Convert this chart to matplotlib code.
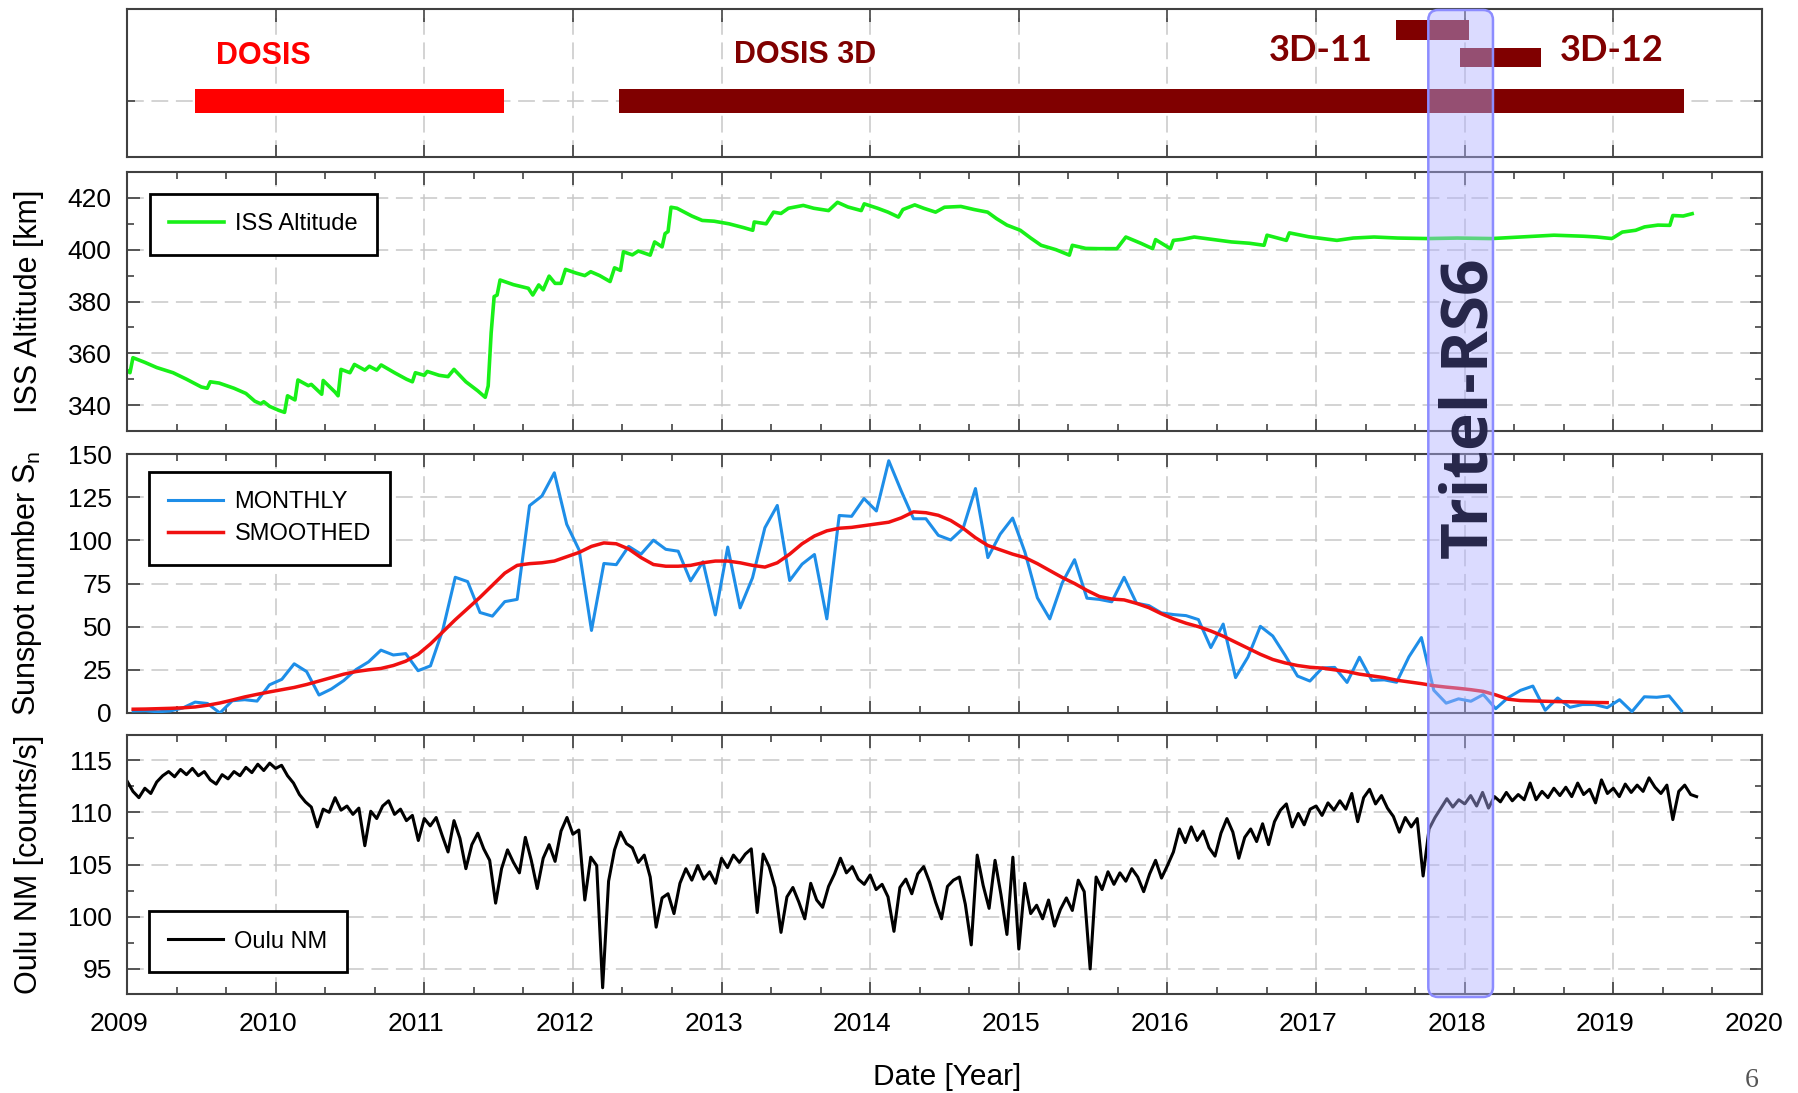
import numpy as np
import matplotlib
matplotlib.use('Agg')
import matplotlib.pyplot as plt
from matplotlib.ticker import MultipleLocator
from matplotlib.patches import FancyBboxPatch
from matplotlib.transforms import ScaledTranslation

plt.rcParams['font.family'] = ['Liberation Sans', 'DejaVu Sans']
plt.rcParams['mathtext.default'] = 'regular'

# ---------------- data ----------------
years = list(range(2009, 2021))

# missions (top panel)
mission_names = ['DOSIS', 'DOSIS 3D', '3D-11', '3D-12']
mission_start = [2009.458, 2012.31, 2017.54, 2017.97]
mission_end = [2011.537, 2019.475, 2018.03, 2018.51]
mission_level = [1.0, 1.0, 2.63, 2.0]
mission_height = [0.55, 0.55, 0.46, 0.44]
mission_color = ['#ff0000', '#800000', '#800000', '#800000']
label_x = [2009.92, 2013.56, 2017.03, 2018.99]
label_y = [2.04, 2.06, 2.15, 2.15]

# Tritel-RS6 period
band_start, band_end = 2017.755, 2018.19

# ISS altitude [km]
iss_t = [2009.00, 2009.02, 2009.04, 2009.12, 2009.20, 2009.31, 2009.40, 2009.50, 2009.54, 2009.56,
         2009.62, 2009.72, 2009.80, 2009.86, 2009.90, 2009.92, 2009.96, 2010.02, 2010.06, 2010.08,
         2010.13, 2010.15, 2010.22, 2010.24, 2010.31, 2010.32, 2010.40, 2010.42, 2010.44, 2010.50,
         2010.53, 2010.60, 2010.63, 2010.68, 2010.71, 2010.80, 2010.88, 2010.92, 2010.94, 2011.00,
         2011.02, 2011.10, 2011.16, 2011.20, 2011.28, 2011.36, 2011.41, 2011.43, 2011.45, 2011.47,
         2011.49, 2011.51, 2011.60, 2011.70, 2011.73, 2011.77, 2011.80, 2011.84, 2011.88, 2011.92,
         2011.95, 2012.02, 2012.08, 2012.12, 2012.18, 2012.25, 2012.28, 2012.32, 2012.34, 2012.40,
         2012.44, 2012.52, 2012.55, 2012.60, 2012.62, 2012.64, 2012.66, 2012.70, 2012.80, 2012.87,
         2012.95, 2013.05, 2013.15, 2013.21, 2013.22, 2013.30, 2013.35, 2013.40, 2013.45, 2013.55,
         2013.62, 2013.72, 2013.78, 2013.85, 2013.94, 2013.96, 2014.05, 2014.12, 2014.19, 2014.22,
         2014.30, 2014.36, 2014.44, 2014.50, 2014.61, 2014.70, 2014.79, 2014.85, 2014.92, 2015.01,
         2015.08, 2015.15, 2015.25, 2015.34, 2015.36, 2015.45, 2015.54, 2015.66, 2015.72, 2015.82,
         2015.90, 2015.92, 2016.02, 2016.04, 2016.10, 2016.18, 2016.30, 2016.43, 2016.55, 2016.65,
         2016.67, 2016.80, 2016.82, 2016.95, 2017.14, 2017.25, 2017.39, 2017.55, 2017.75, 2017.95,
         2018.18, 2018.40, 2018.60, 2018.80, 2018.89, 2018.99, 2019.06, 2019.15, 2019.21, 2019.30,
         2019.38, 2019.40, 2019.47, 2019.53]
iss_alt = [353.5, 352.5, 358.3, 356.5, 354.5, 352.5, 350.0, 347.0, 346.5, 349.0,
           348.5, 346.5, 344.5, 341.5, 340.5, 341.3, 339.5, 338.0, 337.2, 343.6,
           342.0, 349.7, 347.5, 348.0, 344.2, 349.5, 345.0, 343.6, 353.8, 352.5,
           355.7, 353.5, 355.0, 353.5, 355.5, 352.5, 350.0, 349.0, 352.5, 351.5,
           353.0, 351.5, 351.0, 353.8, 349.0, 345.5, 343.0, 347.4, 367.9, 381.9,
           382.5, 388.3, 386.5, 385.1, 382.5, 386.4, 384.5, 389.8, 387.0, 387.0,
           392.4, 391.0, 390.0, 391.5, 390.0, 387.7, 393.0, 392.0, 399.2, 398.0,
           399.5, 397.9, 403.0, 401.1, 406.2, 407.0, 416.4, 416.0, 413.0, 411.3,
           411.0, 410.0, 408.5, 407.5, 410.7, 410.0, 414.5, 414.0, 416.0, 417.1,
           416.0, 415.1, 418.3, 416.5, 415.1, 417.7, 416.0, 414.5, 412.6, 415.5,
           417.3, 416.0, 414.5, 416.4, 416.7, 415.5, 414.5, 412.0, 409.5, 407.5,
           404.5, 401.7, 400.0, 397.9, 401.7, 400.5, 400.4, 400.4, 404.9, 402.5,
           400.4, 403.9, 400.4, 403.6, 404.0, 404.9, 404.0, 403.0, 402.5, 401.7,
           405.6, 403.6, 406.5, 405.0, 403.6, 404.5, 404.9, 404.5, 404.3, 404.5,
           404.3, 405.0, 405.6, 405.2, 404.9, 404.3, 406.8, 407.5, 408.8, 409.5,
           409.4, 413.2, 413.0, 413.9]

# monthly sunspot number, Jan 2009 - Jun 2019
ssn_monthly = [1.2, 1.3, 0.7, 1.2, 2.9, 6.3, 5.5, 0.0, 7.1, 7.7, 6.9, 16.3,
               19.5, 28.5, 24.0, 10.4, 13.9, 18.8, 25.2, 29.6, 36.4, 33.6, 34.4, 24.5,
               27.3, 48.3, 78.6, 76.1, 58.2, 56.1, 64.5, 65.8, 120.1, 125.7, 139.1, 109.3,
               94.4, 47.8, 86.6, 85.9, 96.5, 92.0, 100.1, 94.8, 93.7, 76.5, 87.6, 56.8,
               96.1, 60.9, 78.3, 107.3, 120.2, 76.7, 86.2, 91.8, 54.5, 114.4, 113.9, 124.2,
               117.0, 146.1, 128.7, 112.5, 112.5, 102.9, 100.2, 106.9, 130.0, 90.0, 103.6, 112.9,
               93.0, 66.7, 54.5, 75.3, 88.8, 66.5, 65.8, 64.4, 78.6, 63.6, 62.2, 58.0,
               57.0, 56.4, 54.1, 37.9, 51.5, 20.5, 32.4, 50.2, 44.6, 33.4, 21.4, 18.5,
               26.1, 26.4, 17.7, 32.3, 18.9, 19.2, 17.8, 32.6, 43.7, 13.2, 5.7, 8.2,
               6.8, 10.7, 2.5, 8.9, 13.1, 15.6, 1.6, 8.7, 3.3, 4.9, 4.9, 3.1,
               7.7, 0.8, 9.4, 9.1, 9.9, 1.2]

# smoothed sunspot number, Jan 2009 - Dec 2018
ssn_smoothed = [2.2, 2.3, 2.5, 2.7, 3.0, 3.5, 4.5, 5.8, 7.5, 9.3, 10.8, 12.2,
                13.5, 14.8, 16.5, 18.5, 20.5, 22.5, 24.0, 25.0, 25.8, 27.5, 30.0, 34.0,
                40.0, 47.0, 54.0, 60.5, 67.0, 74.0, 81.0, 85.5, 86.5, 87.0, 88.0, 90.5,
                93.0, 96.5, 98.5, 98.0, 95.0, 90.0, 86.0, 85.0, 85.0, 85.5, 87.0, 88.0,
                88.0, 87.0, 85.5, 84.5, 87.0, 92.0, 98.0, 102.5, 105.5, 107.0, 107.5, 108.5,
                109.5, 110.5, 113.0, 116.5, 116.0, 114.5, 111.5, 107.0, 101.5, 97.0, 94.5, 92.0,
                90.0, 86.5, 82.5, 78.5, 75.0, 71.0, 67.5, 66.0, 65.5, 63.5, 61.0, 57.5,
                54.5, 52.0, 50.0, 47.5, 44.5, 41.0, 37.5, 34.0, 31.0, 29.0, 27.5, 26.5,
                26.0, 25.0, 24.0, 22.5, 21.5, 20.5, 19.0, 18.0, 17.0, 15.8, 15.0, 14.3,
                13.5, 12.5, 10.5, 8.0, 7.2, 7.0, 6.8, 6.6, 6.5, 6.3, 6.1, 6.0]

# Oulu neutron monitor [counts/s], sampled every 0.04 yr from 2009.00
oulu_nm = [
    113.0, 112.0, 111.4, 112.3, 111.8, 112.9, 113.5, 113.9, 113.4, 114.1, 113.6, 114.2, 113.5,
    113.9, 113.1, 112.7, 113.6, 113.2, 113.9, 113.5, 114.3, 113.8, 114.6, 114.0, 114.7,
    114.2, 114.5, 113.5, 112.8, 111.7, 111.0, 110.5, 108.6, 110.3, 110.0, 111.4, 110.2, 110.6,
    109.8, 110.4, 106.8, 110.1, 109.4, 110.6, 111.1, 109.8, 110.3, 109.2, 109.7, 107.3,
    109.4, 108.7, 109.5, 107.8, 106.2, 109.2, 107.5, 104.6, 106.9, 108.0, 106.5, 105.4, 101.3,
    104.6, 106.4, 105.2, 104.2, 107.6, 105.4, 102.7, 105.6, 106.9, 105.3, 108.2, 109.5,
    107.9, 108.3, 101.6, 105.7, 104.9, 93.2, 103.4, 106.4, 108.1, 107.0, 106.6, 105.2, 105.9,
    103.8, 99.0, 101.8, 102.2, 100.3, 103.2, 104.6, 103.5, 104.9, 103.6, 104.3, 103.2,
    105.6, 104.7, 105.9, 105.2, 106.0, 106.5, 100.4, 106.0, 104.8, 102.8, 98.5, 101.9, 102.8,
    101.4, 99.8, 103.2, 101.6, 100.9, 102.9, 104.1, 105.6, 104.2, 104.8, 103.6, 103.1,
    104.0, 102.6, 103.1, 101.9, 98.6, 102.8, 103.6, 102.2, 104.1, 104.8, 103.3, 101.4, 99.8,
    102.9, 103.5, 103.8, 101.2, 97.3, 105.9, 103.0, 100.8, 105.4, 102.1, 98.3, 105.7,
    96.9, 103.2, 100.3, 101.1, 99.8, 101.6, 99.1, 100.7, 101.8, 100.6, 103.5, 102.4, 95.0,
    103.8, 102.6, 104.3, 103.1, 104.2, 103.4, 104.6, 103.8, 102.4, 104.1, 105.4, 103.7,
    104.9, 106.2, 108.4, 107.1, 108.6, 107.3, 108.2, 106.6, 105.8, 108.0, 109.4, 108.1, 105.6,
    107.6, 108.4, 107.2, 108.9, 106.9, 109.1, 110.2, 110.8, 108.6, 109.9, 108.8, 110.3,
    110.6, 109.7, 110.9, 110.2, 111.1, 110.3, 111.8, 109.1, 111.4, 112.2, 110.8, 111.6, 110.4,
    109.6, 108.1, 109.5, 108.6, 109.4, 103.9, 108.4, 109.5, 110.4, 111.3, 110.5, 111.2,
    110.8, 111.6, 110.6, 111.9, 110.4, 111.5, 111.0, 111.9, 111.1, 111.7, 111.2, 112.8, 111.2,
    112.0, 111.4, 112.3, 111.6, 112.4, 111.5, 112.8, 111.7, 112.2, 110.9, 113.1, 111.8,
    112.3, 111.5, 112.7, 111.9, 112.6, 112.0, 113.3, 112.4, 111.8, 112.6, 109.3, 112.0, 112.6,
    111.7, 111.5]

ssn_t = 2009 + (np.arange(len(ssn_monthly)) + 0.5) / 12
smo_t = 2009 + (np.arange(len(ssn_smoothed)) + 0.5) / 12
oulu_t = 2009 + 0.04 * np.arange(len(oulu_nm))

# ---------------- figure ----------------
fig = plt.figure(figsize=(17.98, 10.93), dpi=100)
L, W = 127 / 1798, 1635 / 1798


def pos(top, bot):
    return [L, 1 - bot / 1093, W, (bot - top) / 1093]


ax1 = fig.add_axes(pos(9, 157))
ax2 = fig.add_axes(pos(172, 431))
ax3 = fig.add_axes(pos(454, 713))
ax4 = fig.add_axes(pos(735, 994))

grid_kw = dict(color='#c8c8c8', linewidth=1.1, linestyle=(0, (11, 5)))


def style(ax, minor=True):
    ax.set_xlim(2009, 2020)
    ax.set_xticks(years)
    if minor:
        ax.xaxis.set_minor_locator(MultipleLocator(1 / 3))
    ax.tick_params(which='both', direction='in', top=True, right=True,
                   width=1.1, color='#333333', labelsize=19, pad=11)
    ax.tick_params(which='major', length=9)
    ax.tick_params(which='minor', length=5)
    ax.tick_params(labelbottom=False)
    ax.grid(True, which='major', **grid_kw)
    ax.set_axisbelow(True)
    for s in ax.spines.values():
        s.set_linewidth(1.5)
        s.set_color('#404040')


leg_kw = dict(fontsize=17, fancybox=False, edgecolor='black', framealpha=1,
              handlelength=2.3, handletextpad=0.5, borderpad=0.82, borderaxespad=0)

# top panel: missions
style(ax1, minor=False)
ax1.set_ylim(-0.286, 3.115)
ax1.set_yticks([1])
ax1.tick_params(axis='y', labelleft=False, length=6)
for name, s, e, lv, h, c in zip(mission_names, mission_start, mission_end,
                                mission_level, mission_height, mission_color):
    ax1.barh(lv, e - s, left=s, height=h, color=c, zorder=3)
for i, name in enumerate(mission_names):
    if i < 2:
        ax1.text(label_x[i], label_y[i], name, color=mission_color[i], fontsize=22,
                 fontweight='bold', ha='center', va='center')
    else:
        ax1.text(label_x[i], label_y[i], name, color=mission_color[i], fontsize=26,
                 fontweight='bold', family=['Lato', 'DejaVu Sans'], ha='center', va='center')

# ISS altitude
style(ax2)
ax2.plot(iss_t, iss_alt, color='#18f018', lw=2.6, label='ISS Altitude')
ax2.set_ylim(330, 430)
ax2.yaxis.set_major_locator(MultipleLocator(20))
ax2.yaxis.set_minor_locator(MultipleLocator(10))
ax2.set_ylabel('ISS Altitude [km]', fontsize=22)
lg = ax2.legend(loc='upper left', bbox_to_anchor=(23 / 1635, 1 - 22 / 259), **leg_kw)
lg.get_frame().set_linewidth(2)

# sunspot number
style(ax3)
ax3.plot(ssn_t, ssn_monthly, color='#1e8ee8', lw=2.2, label='MONTHLY', zorder=3)
ax3.plot(smo_t, ssn_smoothed, color='#f01010', lw=2.5, label='SMOOTHED', zorder=4)
ax3.set_ylim(0, 150)
ax3.yaxis.set_major_locator(MultipleLocator(25))
ax3.set_ylabel('Sunspot number $S_n$', fontsize=22)
lg = ax3.legend(loc='upper left', bbox_to_anchor=(22 / 1635, 1 - 18 / 259),
                labelspacing=0.42, **leg_kw)
lg.get_frame().set_linewidth(2)

# Oulu NM
style(ax4)
ax4.plot(oulu_t, oulu_nm, color='black', lw=2.2, label='Oulu NM')
ax4.set_ylim(92.6, 117.4)
ax4.yaxis.set_major_locator(MultipleLocator(5))
ax4.yaxis.set_minor_locator(MultipleLocator(2.5))
ax4.set_ylabel('Oulu NM [counts/s]', fontsize=22)
ax4.tick_params(labelbottom=True, axis='x', pad=13)
ax4.set_xticklabels([str(y) for y in years])
shift = ScaledTranslation(-8 / 100, 0, fig.dpi_scale_trans)
for lab in ax4.get_xticklabels():
    lab.set_transform(lab.get_transform() + shift)
ax4.set_xlabel('Date [Year]', fontsize=21.5, va='baseline')
ax4.xaxis.set_label_coords((947 - 127) / 1635, (994 - 1085) / 259)
lg = ax4.legend(loc='lower left', bbox_to_anchor=(22 / 1635, 22 / 259), **leg_kw)
lg.get_frame().set_linewidth(2)

for ax in (ax2, ax3, ax4):
    ax.yaxis.set_label_coords((44 - 127) / 1635, 0.5)
    ax.ticklabel_format(axis='y', useOffset=False)

# Tritel-RS6 band across all panels
to_fig = fig.transFigure.inverted()
bx0 = to_fig.transform(ax4.transData.transform((band_start, 100)))[0]
bx1 = to_fig.transform(ax4.transData.transform((band_end, 100)))[0]
by0, by1 = 1 - 997 / 1093, 1 - 10 / 1093
band = FancyBboxPatch((bx0, by0), bx1 - bx0, by1 - by0,
                      boxstyle='round,pad=0,rounding_size=0.0055',
                      mutation_aspect=1798 / 1093, transform=fig.transFigure,
                      facecolor=(0.69, 0.69, 1.0, 0.45), edgecolor='#8c8cff',
                      linewidth=1.8, zorder=5)
fig.add_artist(band)
fig.text(1470 / 1798, 1 - 407.5 / 1093, 'Tritel-RS6', rotation=90, ha='center', va='center',
         fontsize=46, fontweight='bold', family=['Open Sans', 'DejaVu Sans'],
         color='#26264a', zorder=6)

# page number
fig.text(1752 / 1798, 1 - 1087 / 1093, '6', ha='center', va='baseline', fontsize=20,
         family=['Liberation Serif', 'DejaVu Serif'], color='#555555')

fig.savefig('out.png', dpi=100)
